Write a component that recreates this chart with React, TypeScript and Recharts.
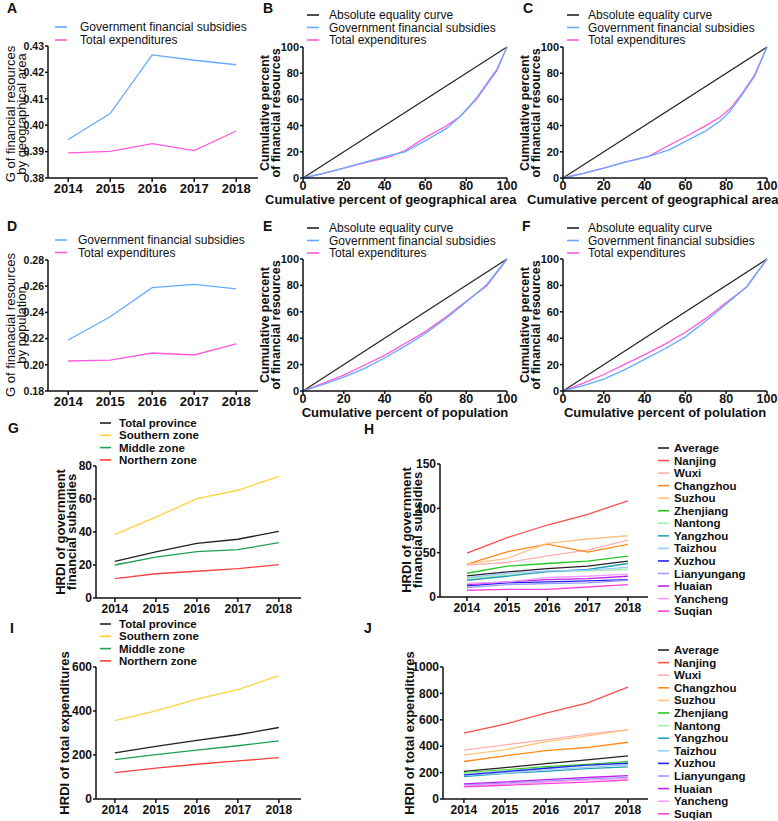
import React from "react";
import { LineChart, Line, XAxis, YAxis } from "recharts";

const FONT = "'Liberation Sans', Arial, Helvetica, sans-serif";
const BLUE = "#66aaff";
const PINK = "#ff5ad9";
const INK = "#111";

// ---- data ----
const years = [2014, 2015, 2016, 2017, 2018];

// A / D: Gini coefficients
const giniAreaSubsidy = [0.3946, 0.4044, 0.4266, 0.4246, 0.4229];
const giniAreaExpend = [0.3895, 0.3901, 0.393, 0.3904, 0.3978];
const giniPopSubsidy = [0.2189, 0.2367, 0.2589, 0.2614, 0.2579];
const giniPopExpend = [0.2029, 0.2036, 0.209, 0.2075, 0.2159];

// Lorenz curves
const equalityX = [0, 100];
const equalityY = [0, 100];
const lorenzBX = [0, 10, 20, 30, 42, 50, 60, 70, 77, 85, 90, 95, 100];
const lorenzBSubsidy = [0, 3.5, 7.5, 12, 17, 20, 28.5, 37.5, 47, 61, 72, 83, 100];
const lorenzBExpend = [0, 3.5, 7.5, 11.5, 16, 21, 31, 39.5, 47, 60, 71, 82, 100];
const lorenzCX = [0, 10, 20, 30, 42, 52, 60, 70, 77, 82, 88, 94, 100];
const lorenzCSubsidy = [0, 3.5, 7.5, 12, 16.5, 21.5, 28, 36, 43.5, 51, 64, 78, 100];
const lorenzCExpend = [0, 3.5, 7.5, 12, 16.5, 25, 31.5, 40, 46.5, 53, 65, 79, 100];
const lorenzPopX = [0, 10, 20, 30, 40, 50, 60, 70, 80, 90, 100];
const lorenzESubsidy = [0, 5, 10.5, 17, 25, 34, 43.5, 55, 67.5, 80.5, 100];
const lorenzEExpend = [0, 6, 12, 19.5, 27, 36, 45, 56, 68, 79.5, 100];
const lorenzFSubsidy = [0, 4, 9, 16, 24, 32, 41, 53, 66, 79, 100];
const lorenzFExpend = [0, 6, 12.5, 20, 27.5, 35.5, 44.5, 55, 67, 78.5, 100];

// G / I: zones
const zoneNames = ["Total province", "Southern zone", "Middle zone", "Northern zone"];
const zoneColors = ["#222222", "#ffd23c", "#20a050", "#ff4040"];
const hrdiSubsidyZones = [
  [22.2, 27.9, 33.1, 35.6, 40.4],
  [38.6, 49, 60.2, 65.3, 73.7],
  [20, 24.8, 28.1, 29.3, 33.5],
  [11.7, 14.7, 16.2, 17.8, 20.2],
];
const hrdiExpendZones = [
  [210, 239, 266, 292, 325],
  [356, 401, 454, 497, 561],
  [179, 202, 222, 242, 264],
  [120, 140, 158, 173, 188],
];

// H / J: cities
const cityNames = [
  "Average", "Nanjing", "Wuxi", "Changzhou", "Suzhou", "Zhenjiang", "Nantong",
  "Yangzhou", "Taizhou", "Xuzhou", "Lianyungang", "Huaian", "Yancheng", "Suqian",
];
const cityColors = [
  "#222222", "#ff4d4d", "#ffb0b0", "#ff8a1c", "#ffc27f", "#22c722", "#a6eea6",
  "#24a0b8", "#99c9ff", "#2424ee", "#9a9aff", "#bb22ee", "#f0a0f8", "#ff44dd",
];
const hrdiSubsidyCities = [
  [23.8, 28.3, 32.1, 34.8, 40.4],
  [49.5, 66.9, 81.2, 93.3, 108.4],
  [35.9, 38.9, 46.5, 52.9, 64.2],
  [37, 51, 59.7, 50.6, 59.3],
  [37, 43.5, 60.5, 65.4, 69.1],
  [26.8, 34.8, 37.8, 40.4, 46.1],
  [20.8, 24.6, 28.3, 29.5, 31],
  [18.9, 23.4, 28.7, 31, 37.8],
  [22, 26.5, 29.5, 30.2, 33.3],
  [12.5, 15.9, 17, 18.1, 19.7],
  [10.6, 14, 15.2, 15.9, 18.9],
  [14, 17, 19.7, 20.8, 23.4],
  [15.2, 17, 22, 23.4, 25.7],
  [7.6, 8.7, 8.7, 11.3, 14],
];
const hrdiExpendCities = [
  [210, 238, 268, 296, 327],
  [499, 567, 651, 727, 848],
  [370, 410, 448, 491, 524],
  [284, 327, 367, 390, 430],
  [334, 372, 435, 478, 524],
  [200, 220, 245, 263, 283],
  [195, 215, 235, 255, 275],
  [170, 195, 210, 230, 244],
  [180, 197, 220, 240, 258],
  [182, 208, 233, 256, 271],
  [105, 120, 135, 150, 163],
  [114, 130, 147, 163, 177],
  [100, 113, 128, 143, 157],
  [92, 104, 117, 128, 144],
];

const giniNames = ["Government financial subsidies", "Total expenditures"];
const lorenzNames = ["Absolute equality curve", "Government financial subsidies", "Total expenditures"];

// ---- helpers ----
type Geom = { left: number; top: number; width: number; height: number; x0: number; x1: number; y0: number; y1: number };
type Leg = { x1: number; x2: number; tx: number; y0: number; step: number; size: number; weight: number };

const XH = 22;
const axisLine = { stroke: INK, strokeWidth: 1.5 };

function chartMargin(g: Geom) {
  return {
    top: g.y0 - g.top,
    right: g.left + g.width - g.x1,
    bottom: Math.max(0, g.top + g.height - g.y1 - XH),
    left: 0,
  };
}

function Legend({ leg, names, colors }: { leg: Leg; names: string[]; colors: string[] }) {
  return (
    <g>
      {names.map((n, i) => {
        const y = leg.y0 + i * leg.step;
        return (
          <g key={n}>
            <line x1={leg.x1} x2={leg.x2} y1={y} y2={y} stroke={colors[i]} strokeWidth={1.6} />
            <text x={leg.tx} y={y} dominantBaseline="central" fontSize={leg.size} fontWeight={leg.weight} fill={INK}>
              {n}
            </text>
          </g>
        );
      })}
    </g>
  );
}

function YTitle({ lines, xs, cy, size, weight }: { lines: string[]; xs: number[]; cy: number; size: number; weight: number }) {
  return (
    <g>
      {lines.map((l, i) => (
        <text
          key={l}
          x={xs[i]}
          y={cy}
          transform={`rotate(-90 ${xs[i]} ${cy})`}
          textAnchor="middle"
          dominantBaseline="central"
          fontSize={size}
          fontWeight={weight}
          fill={INK}
        >
          {l}
        </text>
      ))}
    </g>
  );
}

function Overlay({ children }: { children: React.ReactNode }) {
  return (
    <svg width={778} height={821} style={{ position: "absolute", left: 0, top: 0, pointerEvents: "none" }}>
      {children}
    </svg>
  );
}

function Letter({ x, y, t }: { x: number; y: number; t: string }) {
  return (
    <text x={x} y={y} fontSize={14} fontWeight={700} fill={INK}>
      {t}
    </text>
  );
}

type TrendProps = {
  g: Geom;
  series: number[][];
  names: string[];
  colors: string[];
  xDomain: [number, number];
  yDomain: [number, number];
  yTicks: number[];
  digits: number;
  xFont: number;
  yFont: number;
};

function TrendChart({ g, series, names, colors, xDomain, yDomain, yTicks, digits, xFont, yFont }: TrendProps) {
  const rows = years.map((y, i) => {
    const r: Record<string, number> = { year: y };
    series.forEach((s, k) => (r["s" + k] = s[i]));
    return r;
  });
  return (
    <div style={{ position: "absolute", left: g.left, top: g.top }}>
      <LineChart width={g.width} height={g.height} data={rows} margin={chartMargin(g)}>
        <XAxis
          type="number"
          dataKey="year"
          domain={xDomain}
          ticks={years}
          allowDataOverflow
          height={XH}
          axisLine={axisLine}
          tickLine={axisLine}
          tickSize={4}
          tickMargin={2}
          tick={{ fontSize: xFont, fontWeight: 700, fill: INK }}
        />
        <YAxis
          type="number"
          domain={yDomain}
          ticks={yTicks}
          allowDataOverflow
          width={g.x0 - g.left}
          axisLine={axisLine}
          tickLine={axisLine}
          tickSize={3}
          tickMargin={1}
          tickFormatter={(v: number) => v.toFixed(digits)}
          tick={{ fontSize: yFont, fontWeight: 700, fill: INK }}
        />
        {series.map((_, k) => (
          <Line
            key={names[k]}
            type="linear"
            dataKey={"s" + k}
            name={names[k]}
            stroke={colors[k]}
            strokeWidth={1.3}
            dot={false}
            isAnimationActive={false}
          />
        ))}
      </LineChart>
    </div>
  );
}

function LorenzChart({ g, xs, subsidy, expend }: { g: Geom; xs: number[]; subsidy: number[]; expend: number[] }) {
  const eq = equalityX.map((x, i) => ({ x, y: equalityY[i] }));
  const sub = xs.map((x, i) => ({ x, y: subsidy[i] }));
  const exp = xs.map((x, i) => ({ x, y: expend[i] }));
  const t = [0, 20, 40, 60, 80, 100];
  return (
    <div style={{ position: "absolute", left: g.left, top: g.top }}>
      <LineChart width={g.width} height={g.height} margin={chartMargin(g)}>
        <XAxis
          type="number"
          dataKey="x"
          domain={[0, 100]}
          ticks={t}
          height={XH}
          axisLine={axisLine}
          tickLine={axisLine}
          tickSize={3}
          tickMargin={0}
          tick={{ fontSize: 12.5, fontWeight: 700, fill: INK }}
        />
        <YAxis
          type="number"
          domain={[0, 100]}
          ticks={t}
          width={g.x0 - g.left}
          axisLine={axisLine}
          tickLine={axisLine}
          tickSize={3}
          tickMargin={1}
          tick={{ fontSize: 11, fontWeight: 700, fill: INK }}
        />
        <Line data={eq} dataKey="y" name={lorenzNames[0]} stroke="#222" strokeWidth={1.2} dot={false} isAnimationActive={false} />
        <Line data={exp} dataKey="y" name={lorenzNames[2]} stroke={PINK} strokeWidth={1.3} dot={false} isAnimationActive={false} />
        <Line data={sub} dataKey="y" name={lorenzNames[1]} stroke={BLUE} strokeWidth={1.3} dot={false} isAnimationActive={false} />
      </LineChart>
    </div>
  );
}

// ---- layout ----
const gA: Geom = { left: 0, top: 0, width: 262, height: 205, x0: 48, x1: 258, y0: 46, y1: 178 };
const gB: Geom = { left: 262, top: 0, width: 260, height: 205, x0: 303, x1: 507, y0: 47, y1: 178 };
const gC: Geom = { left: 522, top: 0, width: 256, height: 205, x0: 563, x1: 767, y0: 47, y1: 178 };
const gD: Geom = { left: 0, top: 210, width: 262, height: 205, x0: 48, x1: 258, y0: 260, y1: 391 };
const gE: Geom = { left: 262, top: 210, width: 260, height: 205, x0: 303, x1: 507, y0: 259, y1: 391 };
const gF: Geom = { left: 522, top: 210, width: 256, height: 205, x0: 563, x1: 767, y0: 259, y1: 391 };
const gG: Geom = { left: 20, top: 440, width: 300, height: 180, x0: 96, x1: 301, y0: 466, y1: 598 };
const gH: Geom = { left: 380, top: 440, width: 280, height: 180, x0: 440, x1: 648, y0: 464, y1: 597 };
const gI: Geom = { left: 20, top: 640, width: 300, height: 181, x0: 96, x1: 301, y0: 667, y1: 799 };
const gJ: Geom = { left: 380, top: 640, width: 280, height: 181, x0: 443, x1: 648, y0: 667, y1: 799 };

const smallLeg = (x1: number, tx: number, y0: number, step: number): Leg => ({ x1, x2: x1 + 12, tx, y0, step, size: 12, weight: 400 });
const boldLeg = (x1: number, tx: number, y0: number, step: number): Leg => ({ x1, x2: x1 + 11, tx, y0, step, size: 11.5, weight: 700 });

export default function App() {
  return (
    <div
      style={{
        position: "absolute",
        left: 0,
        top: 0,
        width: 778,
        height: 821,
        overflow: "hidden",
        background: "#fff",
        fontFamily: FONT,
      }}
    >
      <TrendChart g={gA} series={[giniAreaSubsidy, giniAreaExpend]} names={giniNames} colors={[BLUE, PINK]}
        xDomain={[2013.52, 2018.52]} yDomain={[0.38, 0.43]} yTicks={[0.38, 0.39, 0.4, 0.41, 0.42, 0.43]} digits={2} xFont={13} yFont={10.5} />
      <LorenzChart g={gB} xs={lorenzBX} subsidy={lorenzBSubsidy} expend={lorenzBExpend} />
      <LorenzChart g={gC} xs={lorenzCX} subsidy={lorenzCSubsidy} expend={lorenzCExpend} />
      <TrendChart g={gD} series={[giniPopSubsidy, giniPopExpend]} names={giniNames} colors={[BLUE, PINK]}
        xDomain={[2013.52, 2018.52]} yDomain={[0.18, 0.28]} yTicks={[0.18, 0.2, 0.22, 0.24, 0.26, 0.28]} digits={2} xFont={13} yFont={10.5} />
      <LorenzChart g={gE} xs={lorenzPopX} subsidy={lorenzESubsidy} expend={lorenzEExpend} />
      <LorenzChart g={gF} xs={lorenzPopX} subsidy={lorenzFSubsidy} expend={lorenzFExpend} />
      <TrendChart g={gG} series={hrdiSubsidyZones} names={zoneNames} colors={zoneColors}
        xDomain={[2013.54, 2018.54]} yDomain={[0, 80]} yTicks={[0, 20, 40, 60, 80]} digits={0} xFont={12} yFont={12} />
      <TrendChart g={gH} series={hrdiSubsidyCities} names={cityNames} colors={cityColors}
        xDomain={[2013.33, 2018.5]} yDomain={[0, 150]} yTicks={[0, 50, 100, 150]} digits={0} xFont={12} yFont={12} />
      <TrendChart g={gI} series={hrdiExpendZones} names={zoneNames} colors={zoneColors}
        xDomain={[2013.54, 2018.54]} yDomain={[0, 600]} yTicks={[0, 200, 400, 600]} digits={0} xFont={12} yFont={12} />
      <TrendChart g={gJ} series={hrdiExpendCities} names={cityNames} colors={cityColors}
        xDomain={[2013.49, 2018.49]} yDomain={[0, 1000]} yTicks={[0, 200, 400, 600, 800, 1000]} digits={0} xFont={12} yFont={12} />

      <Overlay>
        <Letter x={7} y={13} t="A" />
        <Letter x={263} y={13} t="B" />
        <Letter x={523} y={13} t="C" />
        <Letter x={7} y={231} t="D" />
        <Letter x={263} y={231} t="E" />
        <Letter x={522} y={231} t="F" />
        <Letter x={8} y={433} t="G" />
        <Letter x={364} y={434} t="H" />
        <Letter x={10} y={633} t="I" />
        <Letter x={364} y={633} t="J" />

        <Legend leg={smallLeg(55, 80, 27, 13)} names={giniNames} colors={[BLUE, PINK]} />
        <Legend leg={smallLeg(55, 78, 240, 12.5)} names={giniNames} colors={[BLUE, PINK]} />
        <Legend leg={smallLeg(307, 329, 15, 12.5)} names={lorenzNames} colors={["#222", BLUE, PINK]} />
        <Legend leg={smallLeg(567, 588, 15, 12.5)} names={lorenzNames} colors={["#222", BLUE, PINK]} />
        <Legend leg={smallLeg(307, 329, 228, 12.5)} names={lorenzNames} colors={["#222", BLUE, PINK]} />
        <Legend leg={smallLeg(567, 588, 228, 12.5)} names={lorenzNames} colors={["#222", BLUE, PINK]} />
        <Legend leg={boldLeg(100, 119, 423, 12.3)} names={zoneNames} colors={zoneColors} />
        <Legend leg={boldLeg(100, 119, 624, 12.3)} names={zoneNames} colors={zoneColors} />
        <Legend leg={boldLeg(658, 674, 448, 12.55)} names={cityNames} colors={cityColors} />
        <Legend leg={boldLeg(658, 674, 650, 12.6)} names={cityNames} colors={cityColors} />

        <YTitle lines={["G of financial resources", "by geographical area"]} xs={[10, 21]} cy={114} size={13} weight={400} />
        <YTitle lines={["G of finanacial resources", "by population"]} xs={[10, 21]} cy={325} size={13} weight={400} />
        <YTitle lines={["Cumulative percent", "of financial resources"]} xs={[265, 276]} cy={113} size={12.5} weight={700} />
        <YTitle lines={["Cumulative percent", "of financial resources"]} xs={[525, 536]} cy={113} size={12.5} weight={700} />
        <YTitle lines={["Cumulative percent", "of financial resources"]} xs={[265, 276]} cy={325} size={12.5} weight={700} />
        <YTitle lines={["Cumulative percent", "of financial resources"]} xs={[525, 536]} cy={325} size={12.5} weight={700} />
        <YTitle lines={["HRDI of government", "financial subsidies"]} xs={[60, 71]} cy={532} size={13} weight={700} />
        <YTitle lines={["HRDI of government", "financial subsidies"]} xs={[406, 417]} cy={530} size={13} weight={700} />
        <YTitle lines={["HRDI of total expenditures"]} xs={[64]} cy={733} size={13} weight={700} />
        <YTitle lines={["HRDI of total expenditures"]} xs={[409]} cy={733} size={13} weight={700} />

        <text x={265} y={204} fontSize={13} fontWeight={700} fill={INK}>Cumulative percent of geographical area</text>
        <text x={527} y={204} fontSize={13} fontWeight={700} fill={INK}>Cumulative percent of geographical area</text>
        <text x={405} y={417} textAnchor="middle" fontSize={13} fontWeight={700} fill={INK}>Cumulative percent of population</text>
        <text x={665} y={417} textAnchor="middle" fontSize={13} fontWeight={700} fill={INK}>Cumulative percent of polulation</text>
      </Overlay>
    </div>
  );
}
